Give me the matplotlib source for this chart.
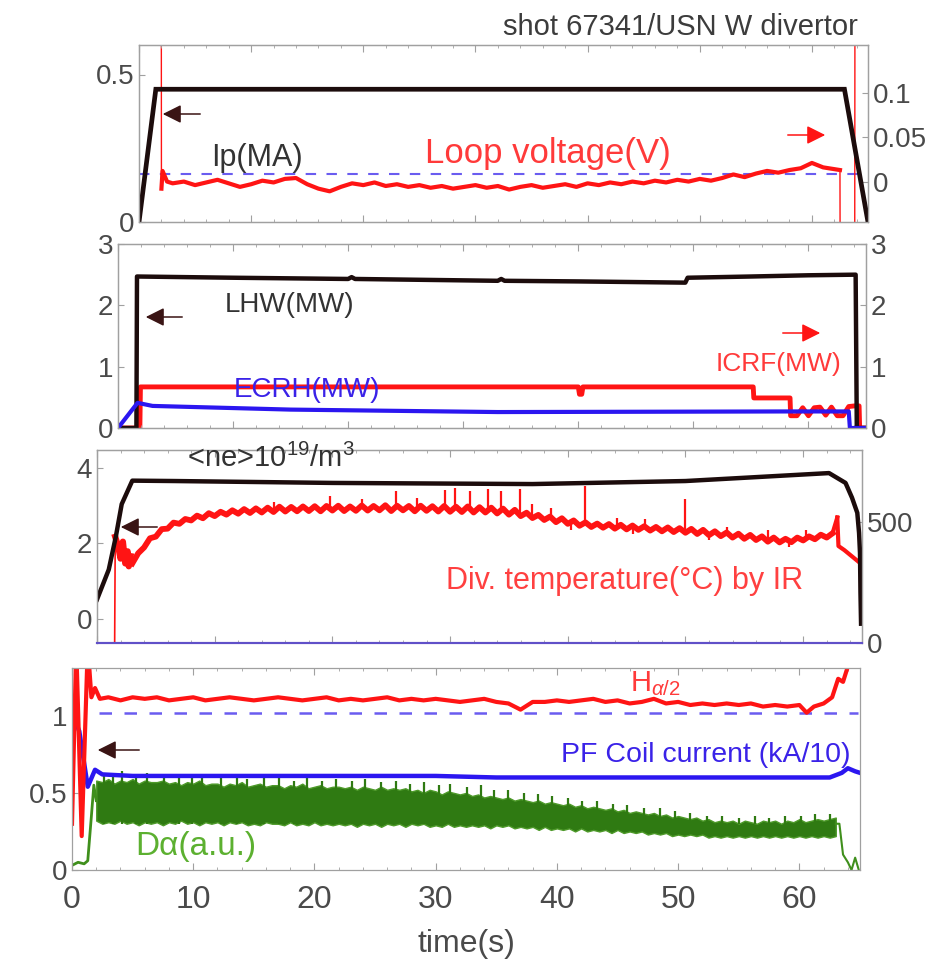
import numpy as np
import matplotlib
matplotlib.use("Agg")
import matplotlib.pyplot as plt
from matplotlib.patches import FancyArrowPatch
from matplotlib.ticker import MultipleLocator

# ---------------------------------------------------------------- data
time_ticks = [0, 10, 20, 30, 40, 50, 60]

# panel 1 : plasma current (MA, left) and loop voltage (V, right)
ip_t = [0.0, 1.5, 62.9, 65.0]
ip_ma = [0.0, 0.45, 0.45, 0.0]

vloop_t = [0.0, 1.98, 2.0, 2.1, 2.5] + list(range(3, 63)) + [62.5, 62.55, 63.8, 63.85, 65.0]
vloop_v = [0.4, 0.4, -0.008, 0.012, 0.000,
           -0.002, 0.000, -0.004, -0.001, 0.002, -0.002, -0.006, -0.003, 0.001, -0.001,
           0.003, 0.004, -0.003, -0.008, -0.011, -0.006, -0.002, -0.004, -0.001, -0.005,
           -0.003, -0.006, -0.004, -0.007, -0.005, -0.008, -0.006, -0.004, -0.007, -0.005,
           -0.009, -0.006, -0.004, -0.007, -0.005, -0.003, -0.006, -0.002, -0.004, -0.001,
           -0.003, 0.000, -0.002, 0.001, -0.001, 0.002, 0.000, 0.003, 0.001, 0.004,
           0.008, 0.005, 0.009, 0.012, 0.010, 0.013, 0.015, 0.021, 0.016, 0.014,
           0.013, -0.3, -0.3, 0.4, 0.4]
vloop_ref_t = [0.0, 65.0]
vloop_ref = [0.009, 0.009]

# panel 2 : heating powers (MW)
lhw_t = [0.0, 1.6, 1.65, 10, 20, 20.3, 20.6, 33, 33.3, 33.6, 40, 49.3, 49.5, 55, 60, 64.1, 64.2, 65.0]
lhw_mw = [0.0, 0.0, 2.47, 2.45, 2.43, 2.46, 2.43, 2.40, 2.43, 2.40, 2.39, 2.37, 2.45, 2.47, 2.49, 2.50, 0.0, 0.0]

icrf_t = [0.0, 1.9, 1.95, 40.0, 40.1, 40.3, 40.4, 55.2, 55.25, 58.4, 58.45, 59.0, 59.5,
          60.0, 60.5, 61.0, 61.5, 62.0, 62.5, 63.0, 63.5, 64.0, 64.4, 64.45, 65.0]
icrf_mw = [0.0, 0.0, 0.67, 0.67, 0.55, 0.55, 0.67, 0.67, 0.49, 0.49, 0.20, 0.20, 0.33,
           0.20, 0.33, 0.34, 0.21, 0.34, 0.20, 0.20, 0.35, 0.36, 0.36, 0.0, 0.0]

ecrh_t = [0.0, 1.7, 3.0, 15.0, 33.0, 58.4, 63.5, 63.6, 65.0]
ecrh_mw = [0.0, 0.41, 0.36, 0.30, 0.26, 0.27, 0.27, 0.0, 0.0]

# panel 3 : line averaged density (1e19 m^-3, left) and divertor temperature (C, right)
ne_t = [0.0, 1.0, 1.6, 2.1, 3.0, 6.6, 20.0, 37.0, 50.0, 62.2, 63.6, 64.15, 64.6, 64.75, 64.83, 64.87, 64.92]
ne_val = [0.52, 1.31, 2.18, 3.04, 3.66, 3.65, 3.60, 3.57, 3.65, 3.86, 3.60, 3.21, 2.81, 2.28, 1.75, 0.70, -0.12]

tdiv_start_t = [1.5, 1.55, 1.8, 2.0, 2.2, 2.4, 2.6, 2.7, 2.85]
tdiv_start = [0, 440, 400, 350, 420, 330, 380, 318, 360]
tdiv_mid_t = list(np.arange(3.0, 62.51, 0.5))
tdiv_mid = [330, 372, 396, 434, 441, 472, 474, 499, 494, 514,
            508, 528, 517, 538, 526, 544, 532, 550, 536, 555,
            539, 558, 541, 561, 543, 565, 545, 564, 546, 566,
            547, 567, 546, 568, 549, 569, 547, 566, 548, 570,
            549, 568, 550, 571, 547, 569, 550, 568, 546, 569,
            548, 567, 545, 568, 544, 565, 543, 566, 541, 563,
            541, 561, 537, 557, 532, 552, 526, 540, 518, 531,
            510, 524, 501, 517, 494, 508, 486, 500, 481, 495,
            478, 493, 474, 490, 471, 487, 469, 484, 466, 481,
            463, 479, 460, 476, 457, 473, 452, 469, 447, 463,
            443, 458, 437, 453, 432, 448, 427, 442, 420, 437,
            417, 432, 418, 437, 425, 442, 430, 449, 437, 455]
tdiv_end_t = [62.9, 63.0, 63.5, 64.0, 64.5, 64.8]
tdiv_end = [520, 402, 385, 365, 345, 333]
# short bursts on the IR signal: time, level before burst, burst peak
tdiv_burst_t = [15.0, 19.8, 22.5, 25.4, 27.2, 29.6, 30.4, 31.7, 33.2, 34.3, 35.9, 37.0,
                38.6, 40.3, 41.5, 44.2, 45.5, 46.6, 50.0, 52.0, 53.5, 57.0, 58.8, 60.2]
tdiv_burst_lo = [548, 556, 560, 556, 558, 554, 553, 552, 549, 546, 531, 526,
                 514, 470, 494, 484, 450, 478, 466, 425, 447, 431, 400, 426]
tdiv_burst_hi = [585, 610, 595, 628, 600, 636, 642, 632, 640, 628, 640, 575,
                 560, 506, 650, 520, 481, 515, 598, 458, 480, 470, 423, 470]

# panel 4 : H-alpha, PF coil current (kA/10), D-alpha (a.u.)
halpha_t = [0.0, 0.35, 0.8, 1.3, 1.6, 1.9, 2.3] + list(range(3, 36)) + \
           [36, 37, 38] + list(range(39, 61)) + [60.6, 61.2, 62.0, 62.7, 63.2, 63.6, 64.0, 64.3]
halpha = [0.30, 1.45, 0.22, 1.45, 1.12, 1.18, 1.11,
          1.12, 1.10, 1.12, 1.11, 1.12, 1.10, 1.11, 1.12, 1.10, 1.11,
          1.12, 1.11, 1.10, 1.11, 1.12, 1.11, 1.10, 1.11, 1.12, 1.10,
          1.11, 1.10, 1.11, 1.12, 1.10, 1.11, 1.10, 1.11, 1.10, 1.09,
          1.10, 1.11, 1.09,
          1.08, 1.04, 1.09,
          1.09, 1.10, 1.09, 1.10, 1.11, 1.09, 1.10, 1.08, 1.09, 1.11,
          1.08, 1.09, 1.07, 1.08, 1.07, 1.08, 1.07, 1.08, 1.06, 1.07,
          1.06, 1.07,
          1.02, 1.06, 1.08, 1.12, 1.24, 1.22, 1.32, 1.45]
halpha_ref_t = [2.2, 64.8]
halpha_ref = [1.02, 1.02]

pf_t = [0.0, 0.6, 1.3, 1.9, 2.5, 5, 10, 15, 20, 25, 30, 35, 40, 45, 50, 55, 60, 62.5, 63.5, 64.0, 64.6, 65.0]
pf_val = [1.02, 0.90, 0.54, 0.65, 0.62, 0.61, 0.61, 0.61, 0.61, 0.61, 0.61, 0.60, 0.60,
          0.60, 0.60, 0.60, 0.60, 0.60, 0.63, 0.66, 0.64, 0.63]

da_grid = list(np.arange(2.0, 63.01, 0.5))
da_high = [0.58, 0.57, 0.59, 0.56, 0.58, 0.57, 0.59, 0.56, 0.58, 0.57,
           0.57, 0.58, 0.56, 0.57, 0.55, 0.57, 0.56, 0.58, 0.55, 0.56,
           0.56, 0.54, 0.56, 0.55, 0.57, 0.54, 0.55, 0.56, 0.54, 0.55,
           0.55, 0.53, 0.55, 0.54, 0.56, 0.53, 0.54, 0.55, 0.53, 0.54,
           0.54, 0.53, 0.54, 0.52, 0.54, 0.53, 0.52, 0.54, 0.52, 0.53,
           0.52, 0.53, 0.51, 0.52, 0.50, 0.52, 0.51, 0.49, 0.51, 0.50,
           0.49, 0.50, 0.48, 0.49, 0.47, 0.48, 0.47, 0.46, 0.47, 0.45,
           0.46, 0.45, 0.44, 0.45, 0.43, 0.44, 0.43, 0.42, 0.43, 0.41,
           0.42, 0.40, 0.41, 0.40, 0.39, 0.40, 0.38, 0.39, 0.37, 0.38,
           0.37, 0.36, 0.37, 0.35, 0.36, 0.34, 0.35, 0.34, 0.33, 0.34,
           0.32, 0.33, 0.31, 0.32, 0.31, 0.32, 0.30, 0.32, 0.31, 0.30,
           0.32, 0.31, 0.32, 0.30, 0.32, 0.31, 0.33, 0.31, 0.32, 0.33,
           0.32, 0.33, 0.34]
da_low = [0.32, 0.30, 0.31, 0.30, 0.32, 0.30, 0.31, 0.29, 0.31, 0.30,
          0.31, 0.29, 0.31, 0.30, 0.32, 0.30, 0.31, 0.29, 0.31, 0.30,
          0.31, 0.29, 0.31, 0.30, 0.31, 0.29, 0.30, 0.29, 0.31, 0.30,
          0.30, 0.29, 0.31, 0.29, 0.30, 0.29, 0.31, 0.29, 0.30, 0.29,
          0.30, 0.29, 0.30, 0.28, 0.30, 0.29, 0.30, 0.28, 0.30, 0.29,
          0.30, 0.28, 0.30, 0.29, 0.30, 0.28, 0.29, 0.28, 0.30, 0.28,
          0.29, 0.28, 0.29, 0.28, 0.29, 0.27, 0.29, 0.28, 0.29, 0.27,
          0.28, 0.27, 0.28, 0.26, 0.28, 0.26, 0.27, 0.26, 0.27, 0.25,
          0.27, 0.25, 0.26, 0.25, 0.26, 0.24, 0.26, 0.24, 0.25, 0.24,
          0.25, 0.23, 0.24, 0.23, 0.24, 0.22, 0.23, 0.22, 0.23, 0.22,
          0.23, 0.21, 0.22, 0.21, 0.22, 0.21, 0.22, 0.21, 0.22, 0.21,
          0.22, 0.21, 0.22, 0.21, 0.22, 0.21, 0.22, 0.21, 0.22, 0.21,
          0.22, 0.21, 0.22]
# individual D-alpha bursts (ELM-like spikes) above the band
da_spike_t = [2.6, 3.4, 4.1, 5.3, 6.2, 7.6, 8.8, 9.9, 10.7, 12.3, 13.6, 14.4, 15.8, 17.1,
              18.3, 19.4, 20.6, 21.8, 23.1, 24.2, 25.5, 26.7, 27.9, 29.0, 30.3, 31.2,
              32.6, 33.7, 34.8, 36.0, 37.3, 38.4, 39.6, 40.9, 42.1, 43.3, 44.6, 45.8,
              47.2, 48.5, 49.7, 51.0, 52.4, 53.6, 55.0, 56.3, 57.5, 58.8, 60.1, 61.3, 62.5]
da_spike = [0.63, 0.61, 0.64, 0.62, 0.63, 0.61, 0.62, 0.60, 0.62, 0.60, 0.61, 0.59, 0.60, 0.61,
            0.58, 0.60, 0.58, 0.59, 0.58, 0.59, 0.57, 0.58, 0.56, 0.57, 0.55, 0.56,
            0.54, 0.55, 0.52, 0.52, 0.50, 0.49, 0.48, 0.47, 0.45, 0.45, 0.43, 0.42,
            0.40, 0.40, 0.38, 0.37, 0.35, 0.35, 0.34, 0.35, 0.34, 0.35, 0.35, 0.36, 0.36]
da_start_t = [0.0, 0.5, 1.0, 1.3, 1.6, 1.8, 2.0]
da_start = [0.03, 0.05, 0.04, 0.06, 0.35, 0.55, 0.45]
da_end_t = [63.0, 63.3, 63.6, 64.0, 64.3, 64.6, 64.9]
da_end = [0.30, 0.30, 0.10, 0.05, 0.00, 0.08, 0.00]

# ---------------------------------------------------------------- style
plt.rcParams["font.family"] = ["Liberation Sans", "DejaVu Sans"]
plt.rcParams["mathtext.fontset"] = "custom"
plt.rcParams["mathtext.rm"] = "Liberation Sans"
plt.rcParams["mathtext.it"] = "Liberation Sans:italic"

BLACK = "#1c0c0c"
RED = "#ff1414"
BLUE = "#2b16f0"
GREEN = "#2f7a12"
TXT = "#4a4a4a"
FRAME = "#a0a0a0"

W, H = 934, 969
fig = plt.figure(figsize=(W / 100, H / 100), dpi=100)
fig.patch.set_facecolor("white")


def panel(left, right, top, bottom):
    return fig.add_axes([left / W, 1 - bottom / H, (right - left) / W, (bottom - top) / H])


def style(ax, xlabels=False):
    ax.set_xlim(0, 65)
    ax.xaxis.set_major_locator(MultipleLocator(10))
    ax.xaxis.set_minor_locator(MultipleLocator(2))
    ax.tick_params(axis="both", which="both", direction="in", colors=FRAME,
                   labelcolor=TXT, labelsize=20, top=True)
    ax.tick_params(axis="x", which="major", length=5)
    ax.tick_params(axis="x", which="minor", length=2)
    ax.tick_params(axis="y", length=4)
    if not xlabels:
        ax.tick_params(axis="x", labelbottom=False)
    for s in ax.spines.values():
        s.set_color(FRAME)
        s.set_linewidth(0.9)


def ftext(x, y, s, **kw):
    kw.setdefault("ha", "center")
    kw.setdefault("va", "center")
    fig.text(x / W, 1 - y / H, s, **kw)


def farrow(x0, x1, y, color):
    fig.add_artist(FancyArrowPatch(
        (x0 / W, 1 - y / H), (x1 / W, 1 - y / H), transform=fig.transFigure,
        arrowstyle="-|>,head_length=0.7,head_width=0.35", mutation_scale=16,
        color=color, lw=1.1))


# ---------------------------------------------------------------- panel 1
ax1 = panel(139, 868, 45, 222)
style(ax1)
ax1.set_ylim(0, 0.6)
ax1.set_yticks([0, 0.5])
ax1.set_yticklabels(["0", "0.5"])
ax1r = ax1.twinx()
style(ax1r)
ax1r.set_ylim(-0.0456, 0.154)
ax1r.set_yticks([0, 0.05, 0.1])
ax1r.set_yticklabels(["0", "0.05", "0.1"])
ax1r.plot(vloop_ref_t, vloop_ref, color="#6a5cf0", lw=1.5, ls=(0, (5, 5)))
ax1r.plot(vloop_t, vloop_v, color=RED, lw=1.0)
ax1r.plot(vloop_t[2:-4], vloop_v[2:-4], color=RED, lw=3.0)
ax1.set_zorder(ax1r.get_zorder() + 1)
ax1.patch.set_visible(False)
ax1.plot(ip_t, ip_ma, color=BLACK, lw=3.4, solid_joinstyle="miter")

# ---------------------------------------------------------------- panel 2
ax2 = panel(118, 866, 244, 428)
style(ax2)
ax2.set_ylim(0, 3)
ax2.set_yticks([0, 1, 2, 3])
ax2r = ax2.twinx()
style(ax2r)
ax2r.set_ylim(0, 3)
ax2r.set_yticks([0, 1, 2, 3])
ax2r.plot(icrf_t, icrf_mw, color=RED, lw=3.5)
ax2.set_zorder(ax2r.get_zorder() + 1)
ax2.patch.set_visible(False)
ax2.plot(lhw_t, lhw_mw, color=BLACK, lw=3.2)
ax2.plot(ecrh_t, ecrh_mw, color=BLUE, lw=3.0)

# ---------------------------------------------------------------- panel 3
ax3 = panel(97, 862, 450, 643)
style(ax3)
ax3.set_ylim(-0.63, 4.47)
ax3.set_yticks([0, 2, 4])
ax3r = ax3.twinx()
style(ax3r)
for a in (ax3, ax3r):
    a.spines["bottom"].set_color("#6050c8")
    a.spines["bottom"].set_linewidth(1.5)
ax3r.set_ylim(0, 800)
ax3r.set_yticks([0, 500])
ax3r.plot(tdiv_start_t[:2], tdiv_start[:2], color=RED, lw=1.2)
ax3r.plot(tdiv_start_t[1:], tdiv_start[1:], color=RED, lw=4.5)
ax3r.plot(tdiv_mid_t, tdiv_mid, color=RED, lw=4.2, solid_joinstyle="round")
ax3r.plot(tdiv_end_t, tdiv_end, color=RED, lw=3.0)
ax3r.plot([tdiv_mid_t[-1], tdiv_end_t[0]], [tdiv_mid[-1], tdiv_end[0]], color=RED, lw=3.0)
ax3r.vlines(tdiv_burst_t, tdiv_burst_lo, tdiv_burst_hi, color=RED, lw=1.6)
ax3.set_zorder(ax3r.get_zorder() + 1)
ax3.patch.set_visible(False)
ax3.plot(ne_t, ne_val, color=BLACK, lw=3.2)

# ---------------------------------------------------------------- panel 4
ax4 = panel(72, 860, 668, 870)
style(ax4, xlabels=True)
ax4.set_ylim(0, 1.31)
ax4.set_yticks([0, 0.5, 1])
ax4.set_yticklabels(["0", "0.5", "1"])
ax4.set_xticks(time_ticks)
ax4.tick_params(axis="x", labelsize=23, pad=11)
ax4.set_xlabel("time(s)", fontsize=23, color=TXT, labelpad=10)
ax4.fill_between(da_grid, da_low, da_high, color=GREEN, lw=1.0, edgecolor="#4e9a2a")
ax4.vlines(da_spike_t, 0.30, da_spike, color=GREEN, lw=1.6)
ax4.plot(da_start_t, da_start, color="#3f8f1c", lw=2.0)
ax4.plot(da_end_t, da_end, color="#3f8f1c", lw=1.5)
ax4.plot(halpha_ref_t, halpha_ref, color="#6a5cf0", lw=1.8, ls=(0, (5, 5)))
ax4.plot(pf_t, pf_val, color=BLUE, lw=3.2)
ax4.plot(halpha_t, halpha, color=RED, lw=3.0)

# ---------------------------------------------------------------- annotations
ftext(680, 27, "shot 67341/USN W divertor", fontsize=21, color="#3c3c3c")
ftext(257, 158, "Ip(MA)", fontsize=22, color="#333333")
ftext(548, 154, "Loop voltage(V)", fontsize=25, color="#ff3a3a")
ftext(290, 305, "LHW(MW)", fontsize=20, color="#333333")
ftext(307, 390, "ECRH(MW)", fontsize=20, color="#3a22e8")
ftext(779, 364, "ICRF(MW)", fontsize=19, color="#ff3a3a")
ftext(187, 458, "<ne>10$^{19}$/m$^3$", fontsize=21, color="#333333", ha="left")
ftext(625, 581, "Div. temperature(°C) by IR", fontsize=22, color="#ff4040")
ftext(655, 684, "H$_{α/2}$", fontsize=21, color="#ff3a3a")
ftext(706, 755, "PF Coil current (kA/10)", fontsize=20.5, color="#3a22e8")
ftext(196, 846, "Dα(a.u.)", fontsize=24, color="#5cb030")

farrow(203, 160, 114, "#3a1414")
farrow(785, 828, 135, RED)
farrow(185, 143, 317, "#3a1414")
farrow(780, 823, 333, RED)
farrow(160, 118, 527, "#3a1414")
farrow(142, 95, 750, "#3a1414")

fig.savefig("out.png", dpi=100, facecolor="white")
